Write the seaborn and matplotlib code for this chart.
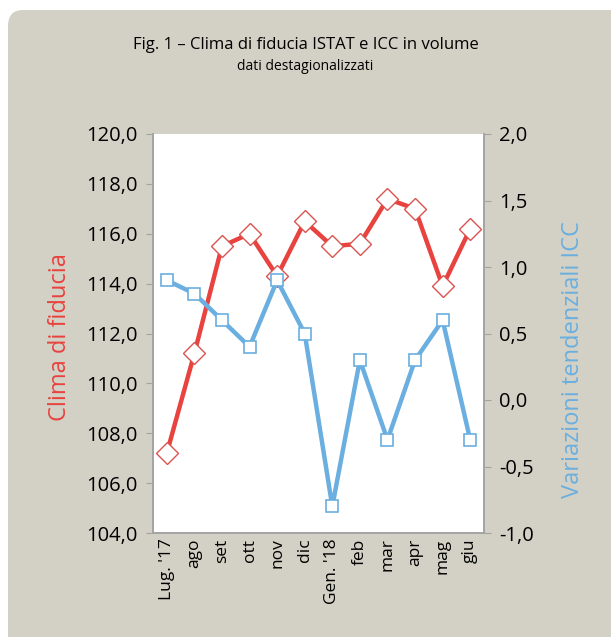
import matplotlib
matplotlib.use("Agg")
import matplotlib.pyplot as plt
import seaborn as sns
from matplotlib.patches import FancyBboxPatch
from matplotlib.ticker import FixedLocator, FuncFormatter, NullFormatter

months = ["Lug. '17", "ago", "set", "ott", "nov", "dic", "Gen. '18", "feb",
          "mar", "apr", "mag", "giu"]
clima = [107.2, 111.2, 115.5, 116.0, 114.3, 116.5, 115.5, 115.6, 117.4, 117.0, 113.9, 116.2]
icc = [0.9, 0.8, 0.6, 0.4, 0.9, 0.5, -0.8, 0.3, -0.3, 0.3, 0.6, -0.3]

RED = "#e8433f"
BLUE = "#6aafe0"
BG = "#d3d1c5"
GREY = "#a3a3a3"

sns.set_style("white")
plt.rcParams['font.family'] = ['Open Sans', 'DejaVu Sans']
plt.rcParams['text.color'] = 'black'
plt.rcParams['xtick.labelcolor'] = 'black'
plt.rcParams['ytick.labelcolor'] = 'black'

fig = plt.figure(figsize=(6.11, 6.37), dpi=100)
fig.patch.set_facecolor("white")
fig.patches.append(FancyBboxPatch((8 / 611, -0.1), 1.2, 1 - 10 / 637 + 0.1,
                                  boxstyle="round,pad=0,rounding_size=0.025",
                                  transform=fig.transFigure, facecolor=BG,
                                  edgecolor="none", zorder=-10))

ax = fig.add_axes([153 / 611, 1 - 533 / 637, (484 - 153) / 611, (533 - 134) / 637])
ax.set_facecolor("white")
x = list(range(len(months)))

sns.lineplot(x=x, y=clima, ax=ax, color=RED, linewidth=3.2, marker="D",
             markersize=11, markerfacecolor="white", markeredgecolor="#d9534f",
             markeredgewidth=1.0, zorder=3)
ax.set_ylim(104, 120)
ax.set_yticks([104, 106, 108, 110, 112, 114, 116, 118, 120])
ax.yaxis.set_major_formatter(FuncFormatter(lambda v, p: f"{v:.1f}".replace(".", ",")))
ax.set_xlim(-0.5, len(months) - 0.5)
ax.xaxis.set_major_locator(FixedLocator([i - 0.5 for i in range(len(months) + 1)]))
ax.xaxis.set_major_formatter(NullFormatter())
ax.xaxis.set_minor_locator(FixedLocator(x))
ax.set_xticklabels(months, minor=True, rotation=90, fontsize=12.5)
ax.tick_params(axis="x", which="minor", length=0, pad=4)
ax.tick_params(axis="x", which="major", length=5, color=GREY, direction="out")
ax.tick_params(axis="y", length=5, color=GREY, direction="out", labelsize=14.5, pad=6)
ax.set_ylabel("Clima di fiducia", color=RED, fontsize=17)
ax.yaxis.set_label_coords(-0.245, 0.49)
ax.set_xlabel("")

ax2 = ax.twinx()
sns.lineplot(x=x, y=icc, ax=ax2, color=BLUE, linewidth=3.2, marker="s",
             markersize=9, markerfacecolor="white", markeredgecolor=BLUE,
             markeredgewidth=1.2, zorder=3)
ax2.set_ylim(-1.0, 2.0)
ax2.set_yticks([-1.0, -0.5, 0.0, 0.5, 1.0, 1.5, 2.0])
ax2.yaxis.set_major_formatter(FuncFormatter(lambda v, p: f"{v:.1f}".replace(".", ",")))
ax2.tick_params(axis="y", length=5, color=GREY, direction="out", labelsize=14.5, pad=6)
ax2.set_ylabel("Variazioni tendenziali ICC", color=BLUE, fontsize=17)
ax2.yaxis.set_label_coords(1.232, 0.434)

for a in (ax, ax2):
    for side in ("left", "right", "bottom"):
        a.spines[side].set_color(GREY)
        a.spines[side].set_linewidth(1.2)
    a.spines["top"].set_visible(False)

fig.text(0.5, 1 - 45 / 637, "Fig. 1 – Clima di fiducia ISTAT e ICC in volume",
         ha="center", va="center", fontsize=12)
fig.text(0.5, 1 - 66 / 637, "dati destagionalizzati", ha="center", va="center",
         fontsize=10)

fig.savefig("out.png", dpi=100, facecolor=fig.get_facecolor())
